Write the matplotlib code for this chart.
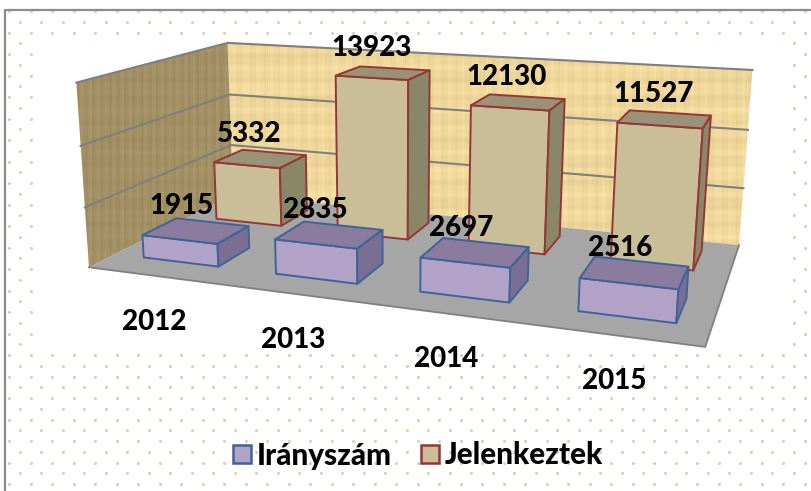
import numpy as np
import matplotlib
matplotlib.use("Agg")
from matplotlib import pyplot as plt
from matplotlib.patches import Patch, Polygon

years = ["2012", "2013", "2014", "2015"]
iranyszam = [1915, 2835, 2697, 2516]
jelenkeztek = [5332, 13923, 12130, 11527]
series_names = ["Irányszám", "Jelenkeztek"]
axis_max = 15000
grid_values = [5000, 10000]

plt.rcParams['font.family'] = ['Lato', 'DejaVu Sans']

# where the corners of the chart box land in the picture: (category, depth, value) -> pixel
box_points = [
    (0, 0, 0, 90, 268), (4, 0, 0, 705, 347), (4, 1, 0, 739, 245), (0, 1, 0, 232, 194),
    (0, 0, 1, 76, 82), (0, 1, 1, 228, 43), (4, 1, 1, 752, 70),
    (0, 1, 1 / 3, 231, 145), (0, 1, 2 / 3, 230, 95),
    (4, 1, 1 / 3, 744, 188), (4, 1, 2 / 3, 748, 130),
    (0, 0, 1 / 3, 85, 207), (0, 0, 2 / 3, 80, 146),
]


def fit_camera(points):
    rows = []
    targets = []
    for x, y, z, u, v in points:
        rows.append([x, y, z, 1, 0, 0, 0, 0, -u * x, -u * y, -u * z])
        rows.append([0, 0, 0, 0, x, y, z, 1, -v * x, -v * y, -v * z])
        targets += [u, v]
    m = np.linalg.lstsq(np.array(rows, float), np.array(targets, float), rcond=None)[0]
    return np.append(m, 1).reshape(3, 4)


camera = fit_camera(box_points)


def project(x, y, value):
    p = camera @ np.array([x, y, value / axis_max, 1.0])
    return p[0] / p[2], p[1] / p[2]


def wood(base, stripe, weave, freq):
    # wood look made out of a few sines, vertical grain with faint cross bands
    xx, yy = np.meshgrid(np.arange(800), np.arange(400))
    grain = (np.sin(xx * freq) + 0.7 * np.sin(xx * freq * 2.73 + 1.1) + 0.5 * np.sin(xx * freq * 6.1 + 0.4)) / 2.2
    bands = (np.sin(yy * 0.37) + 0.6 * np.sin(yy * 0.91 + 2.0) + 0.4 * np.sin(yy * 0.13 + xx * 0.02)) / 2.0
    shade = stripe * grain + weave * bands
    return np.clip(np.array(base)[None, None, :] + shade[:, :, None], 0, 255).astype(np.uint8)


def textured_wall(ax, corners, image):
    poly = Polygon(corners, closed=True, facecolor='none', edgecolor='none', zorder=2)
    ax.add_patch(poly)
    im = ax.imshow(image, extent=(0, 812, 491, 0), aspect='auto', zorder=2)
    im.set_clip_path(poly)


def draw_box(ax, x0, x1, y0, y1, value, front, top, side, edge, zorder):
    a = project(x0, y0, 0)
    b = project(x1, y0, 0)
    c = project(x1, y1, 0)
    e = project(x0, y0, value)
    f = project(x1, y0, value)
    g = project(x1, y1, value)
    h = project(x0, y1, value)
    for corners, color in [([a, b, f, e], front), ([e, f, g, h], top), ([b, c, g, f], side)]:
        ax.add_patch(Polygon(corners, closed=True, facecolor=color, edgecolor=edge,
                             linewidth=1.4, joinstyle='round', zorder=zorder))


figure = plt.figure(figsize=(8.12, 4.91), dpi=100)
axes = figure.add_axes([0, 0, 1, 1])
axes.axis('off')

# dotted paper
dots_x = []
dots_y = []
for k in range(46):
    row_y = 11 + k * 10.75
    start = 9.3 if k % 2 == 0 else 20
    for col_x in np.arange(start, 812, 21.5):
        if 35 < col_x < 790 and 37 < row_y < 350:
            continue
        dots_x.append(col_x)
        dots_y.append(row_y)
axes.scatter(dots_x, dots_y, s=5, c='#d8d3ae', linewidths=0, zorder=1)

# outer frame, only left and top are inside the picture
axes.plot([5.5, 5.5, 812], [491, 10, 10], color='#8c8c8c', linewidth=1.6, zorder=3)

# walls
back_corners = [project(0, 1, 0), project(4, 1, 0), project(4, 1, axis_max), project(0, 1, axis_max)]
left_corners = [project(0, 0, 0), project(0, 1, 0), project(0, 1, axis_max), project(0, 0, axis_max)]
textured_wall(axes, back_corners, wood((240, 215, 155), 8, 8, 0.5))
textured_wall(axes, left_corners, wood((163, 144, 100), 10, 3, 0.8))

for v in grid_values + [axis_max]:
    p0 = project(0, 0, v)
    p1 = project(0, 1, v)
    p2 = project(4, 1, v)
    axes.plot([p0[0], p1[0], p2[0]], [p0[1], p1[1], p2[1]], color='#7f7f7f', linewidth=1.5, zorder=3)

# floor
floor = [project(0, 0, 0), project(4, 0, 0), project(4, 1, 0), project(0, 1, 0)]
axes.add_patch(Polygon(floor, closed=True, facecolor='#a6a6a6', edgecolor='none', zorder=3))
axes.plot([floor[0][0], floor[1][0], floor[2][0]], [floor[0][1], floor[1][1], floor[2][1]],
          color='#808080', linewidth=1.3, zorder=3)

purple_style = dict(front='#b3a2c7', top='#8b7b9f', side='#7b6e95', edge='#3e6497')
red_style = dict(front='#c9be98', top='#9a9277', side='#8a8768', edge='#953735')

# series slots: x from, x to, depth from, depth to, label offset in points
purple_slot = (0.225, 0.80, 0.155, 0.375, (-10.5, 17.5))
red_slot = (0.225, 0.77, 0.66, 0.885, (-8.4, 18))

for i, value in enumerate(jelenkeztek):
    draw_box(axes, i + red_slot[0], i + red_slot[1], red_slot[2], red_slot[3], value, zorder=4, **red_style)
for i, value in enumerate(iranyszam):
    draw_box(axes, i + purple_slot[0], i + purple_slot[1], purple_slot[2], purple_slot[3], value, zorder=5, **purple_style)

# value labels sit up and left of the middle of the bar top
for values, slot in [(jelenkeztek, red_slot), (iranyszam, purple_slot)]:
    for i, value in enumerate(values):
        anchor = project(i + (slot[0] + slot[1]) / 2, (slot[2] + slot[3]) / 2, value)
        axes.annotate(str(value), xy=anchor, xytext=slot[4], textcoords='offset points',
                      ha='center', va='center', fontsize=20, fontweight='black', color='black', zorder=6)

for i, year in enumerate(years):
    anchor = project(i + 0.5, 0, 0)
    axes.annotate(year, xy=anchor, xytext=(0, -33), textcoords='offset points',
                  ha='center', va='center', fontsize=20, fontweight='black', color='black', zorder=6)

handles = [Patch(facecolor=purple_style['front'], edgecolor=purple_style['edge'], linewidth=1.8),
           Patch(facecolor=red_style['front'], edgecolor=red_style['edge'], linewidth=1.8)]
legend = axes.legend(handles, series_names, loc='center', bbox_to_anchor=(418 / 812, 1 - 455.5 / 491),
                     ncol=2, frameon=False, handlelength=0.6, handleheight=0.6,
                     handletextpad=0.2, columnspacing=1.0, borderpad=0, prop={'weight': 'black', 'size': 21.3})
legend.set_zorder(6)

axes.set_xlim(0, 812)
axes.set_ylim(491, 0)
figure.savefig('out.png', dpi=100, facecolor='white')
